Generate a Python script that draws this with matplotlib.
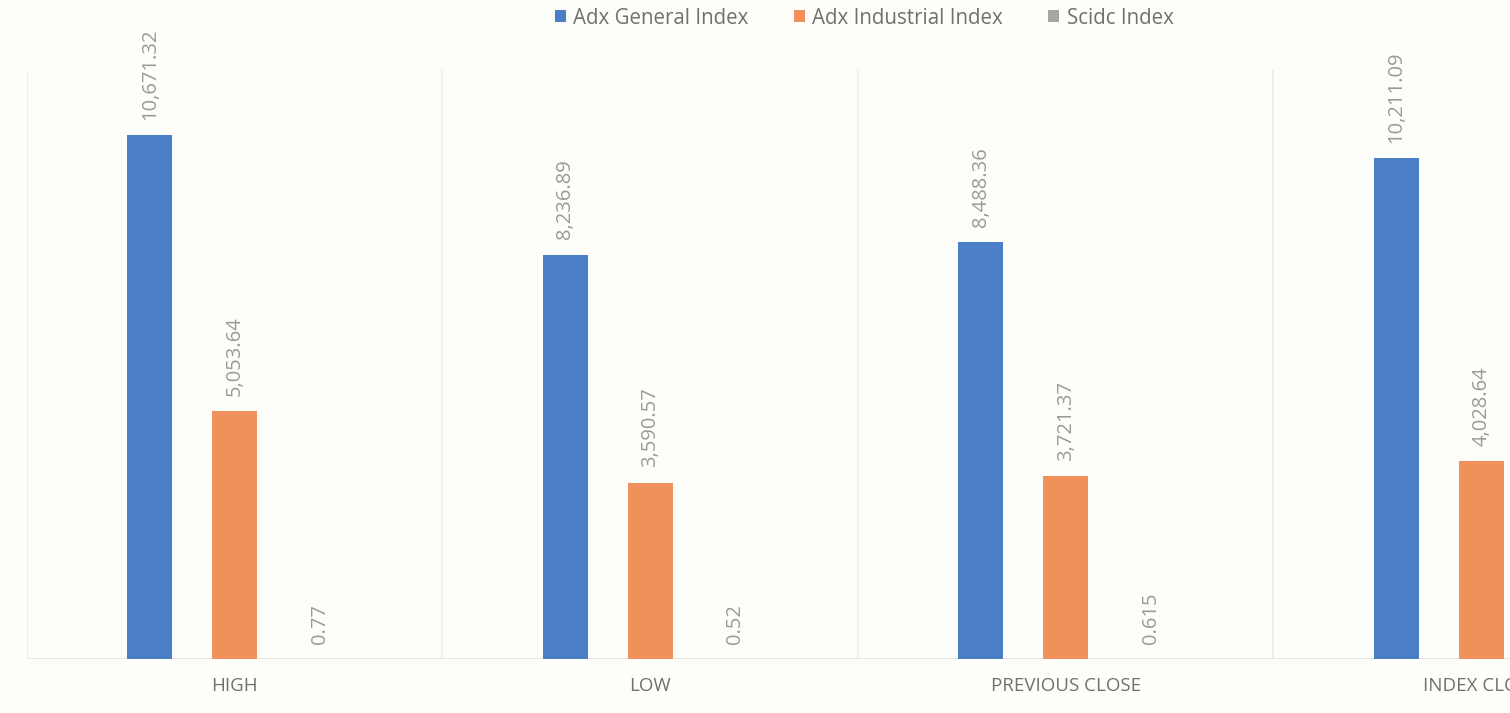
import matplotlib.pyplot as plt
import numpy as np

# Data
categories = ["HIGH", "LOW", "PREVIOUS CLOSE", "INDEX CLOSE"]
series_names = ["Adx General Index", "Adx Industrial Index", "Scidc Index"]
adx_general = [10671.32, 8236.89, 8488.36, 10211.09]
adx_industrial = [5053.64, 3590.57, 3721.37, 4028.64]
scidc = [0.77, 0.52, 0.615, 0.6]

colors = ["#4a7fc8", "#f0915c", "#a5a5a5"]
label_color = "#9a9a9a"
grid_color = "#eceedd"

plt.rcParams["font.family"] = ["Open Sans", "DejaVu Sans"]

fig = plt.figure(figsize=(15.1, 7.13), dpi=100)
fig.patch.set_facecolor("#fdfdfa")
# axes run past the right edge, like the cropped original
ax = fig.add_axes([27 / 1510, 54 / 713, 1662 / 1510, 589 / 713])
ax.set_facecolor("#fdfdfa")

x = np.arange(len(categories))
width = 0.108
offset = 0.2046
all_series = [adx_general, adx_industrial, scidc]
for i, vals in enumerate(all_series):
    pos = x + (i - 1) * offset
    ax.bar(pos, vals, width=width, color=colors[i], label=series_names[i], zorder=3)
    for p, v in zip(pos, vals):
        ax.annotate(f"{v:,}", (p, v), xytext=(0, 11), textcoords="offset points",
                    rotation=90, ha="center", va="bottom", fontsize=14.5,
                    color=label_color)

ax.set_xlim(-0.5, len(categories) - 0.5)
ax.set_ylim(0, 12000)
for b in np.arange(-0.5, len(categories), 1.0):
    ax.axvline(b, color=grid_color, lw=1.2, zorder=1)
ax.axhline(0, color="#e2e4d6", lw=1.2, zorder=2)

for s in ax.spines.values():
    s.set_visible(False)
ax.set_yticks([])
ax.set_xticks(x)
ax.set_xticklabels(categories, fontsize=13.5, color="#707070")
ax.tick_params(axis="x", length=0, pad=13)

fig.legend(loc="center", bbox_to_anchor=(864 / 1510, 1 - 18 / 713), ncol=3,
           frameon=False, fontsize=14.8, handlelength=0.55, handleheight=0.55,
           columnspacing=2.2, handletextpad=0.35, labelcolor="#707070")

plt.savefig("out.png", dpi=100, facecolor=fig.get_facecolor())
